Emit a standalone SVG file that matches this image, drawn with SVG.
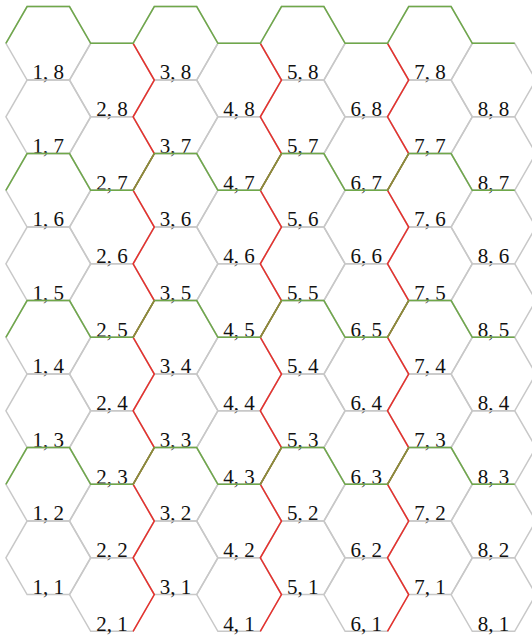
<svg xmlns="http://www.w3.org/2000/svg" xmlns:xlink="http://www.w3.org/1999/xlink" width="532" height="635" viewBox="0 0 532 635">
<style>
.hex{fill:none;stroke:#c8c8c8;stroke-width:1.5}
text{font-family:"Liberation Serif","Times New Roman",serif;font-size:21px;fill:#111;text-anchor:middle}
.g{fill:none;stroke:#6fa84a;stroke-width:1.5;stroke-linejoin:miter}
.r{fill:none;stroke:#e8302c;stroke-width:1.5}
.o{fill:none;stroke:#8c8a3c;stroke-width:1.5}
</style>
<defs><path id="hex" d="M-42.4,0 L-21.2,-36.75 L21.2,-36.75 L42.4,0 L21.2,36.75 L-21.2,36.75Z"/></defs>
<rect width="532" height="635" fill="#fff"/>
<g id="nodes">
<g id="n1-8" transform="translate(48.3,43.3)"><use href="#hex" class="hex"/><text y="36">1, 8</text></g>
<g id="n1-7" transform="translate(48.3,116.8)"><use href="#hex" class="hex"/><text y="36">1, 7</text></g>
<g id="n1-6" transform="translate(48.3,190.3)"><use href="#hex" class="hex"/><text y="36">1, 6</text></g>
<g id="n1-5" transform="translate(48.3,263.8)"><use href="#hex" class="hex"/><text y="36">1, 5</text></g>
<g id="n1-4" transform="translate(48.3,337.3)"><use href="#hex" class="hex"/><text y="36">1, 4</text></g>
<g id="n1-3" transform="translate(48.3,410.8)"><use href="#hex" class="hex"/><text y="36">1, 3</text></g>
<g id="n1-2" transform="translate(48.3,484.3)"><use href="#hex" class="hex"/><text y="36">1, 2</text></g>
<g id="n1-1" transform="translate(48.3,557.8)"><use href="#hex" class="hex"/><text y="36">1, 1</text></g>
<g id="n2-8" transform="translate(111.9,80.05)"><use href="#hex" class="hex"/><text y="36">2, 8</text></g>
<g id="n2-7" transform="translate(111.9,153.55)"><use href="#hex" class="hex"/><text y="36">2, 7</text></g>
<g id="n2-6" transform="translate(111.9,227.05)"><use href="#hex" class="hex"/><text y="36">2, 6</text></g>
<g id="n2-5" transform="translate(111.9,300.55)"><use href="#hex" class="hex"/><text y="36">2, 5</text></g>
<g id="n2-4" transform="translate(111.9,374.05)"><use href="#hex" class="hex"/><text y="36">2, 4</text></g>
<g id="n2-3" transform="translate(111.9,447.55)"><use href="#hex" class="hex"/><text y="36">2, 3</text></g>
<g id="n2-2" transform="translate(111.9,521.05)"><use href="#hex" class="hex"/><text y="36">2, 2</text></g>
<g id="n2-1" transform="translate(111.9,594.55)"><use href="#hex" class="hex"/><text y="36">2, 1</text></g>
<g id="n3-8" transform="translate(175.5,43.3)"><use href="#hex" class="hex"/><text y="36">3, 8</text></g>
<g id="n3-7" transform="translate(175.5,116.8)"><use href="#hex" class="hex"/><text y="36">3, 7</text></g>
<g id="n3-6" transform="translate(175.5,190.3)"><use href="#hex" class="hex"/><text y="36">3, 6</text></g>
<g id="n3-5" transform="translate(175.5,263.8)"><use href="#hex" class="hex"/><text y="36">3, 5</text></g>
<g id="n3-4" transform="translate(175.5,337.3)"><use href="#hex" class="hex"/><text y="36">3, 4</text></g>
<g id="n3-3" transform="translate(175.5,410.8)"><use href="#hex" class="hex"/><text y="36">3, 3</text></g>
<g id="n3-2" transform="translate(175.5,484.3)"><use href="#hex" class="hex"/><text y="36">3, 2</text></g>
<g id="n3-1" transform="translate(175.5,557.8)"><use href="#hex" class="hex"/><text y="36">3, 1</text></g>
<g id="n4-8" transform="translate(239.1,80.05)"><use href="#hex" class="hex"/><text y="36">4, 8</text></g>
<g id="n4-7" transform="translate(239.1,153.55)"><use href="#hex" class="hex"/><text y="36">4, 7</text></g>
<g id="n4-6" transform="translate(239.1,227.05)"><use href="#hex" class="hex"/><text y="36">4, 6</text></g>
<g id="n4-5" transform="translate(239.1,300.55)"><use href="#hex" class="hex"/><text y="36">4, 5</text></g>
<g id="n4-4" transform="translate(239.1,374.05)"><use href="#hex" class="hex"/><text y="36">4, 4</text></g>
<g id="n4-3" transform="translate(239.1,447.55)"><use href="#hex" class="hex"/><text y="36">4, 3</text></g>
<g id="n4-2" transform="translate(239.1,521.05)"><use href="#hex" class="hex"/><text y="36">4, 2</text></g>
<g id="n4-1" transform="translate(239.1,594.55)"><use href="#hex" class="hex"/><text y="36">4, 1</text></g>
<g id="n5-8" transform="translate(302.7,43.3)"><use href="#hex" class="hex"/><text y="36">5, 8</text></g>
<g id="n5-7" transform="translate(302.7,116.8)"><use href="#hex" class="hex"/><text y="36">5, 7</text></g>
<g id="n5-6" transform="translate(302.7,190.3)"><use href="#hex" class="hex"/><text y="36">5, 6</text></g>
<g id="n5-5" transform="translate(302.7,263.8)"><use href="#hex" class="hex"/><text y="36">5, 5</text></g>
<g id="n5-4" transform="translate(302.7,337.3)"><use href="#hex" class="hex"/><text y="36">5, 4</text></g>
<g id="n5-3" transform="translate(302.7,410.8)"><use href="#hex" class="hex"/><text y="36">5, 3</text></g>
<g id="n5-2" transform="translate(302.7,484.3)"><use href="#hex" class="hex"/><text y="36">5, 2</text></g>
<g id="n5-1" transform="translate(302.7,557.8)"><use href="#hex" class="hex"/><text y="36">5, 1</text></g>
<g id="n6-8" transform="translate(366.3,80.05)"><use href="#hex" class="hex"/><text y="36">6, 8</text></g>
<g id="n6-7" transform="translate(366.3,153.55)"><use href="#hex" class="hex"/><text y="36">6, 7</text></g>
<g id="n6-6" transform="translate(366.3,227.05)"><use href="#hex" class="hex"/><text y="36">6, 6</text></g>
<g id="n6-5" transform="translate(366.3,300.55)"><use href="#hex" class="hex"/><text y="36">6, 5</text></g>
<g id="n6-4" transform="translate(366.3,374.05)"><use href="#hex" class="hex"/><text y="36">6, 4</text></g>
<g id="n6-3" transform="translate(366.3,447.55)"><use href="#hex" class="hex"/><text y="36">6, 3</text></g>
<g id="n6-2" transform="translate(366.3,521.05)"><use href="#hex" class="hex"/><text y="36">6, 2</text></g>
<g id="n6-1" transform="translate(366.3,594.55)"><use href="#hex" class="hex"/><text y="36">6, 1</text></g>
<g id="n7-8" transform="translate(429.9,43.3)"><use href="#hex" class="hex"/><text y="36">7, 8</text></g>
<g id="n7-7" transform="translate(429.9,116.8)"><use href="#hex" class="hex"/><text y="36">7, 7</text></g>
<g id="n7-6" transform="translate(429.9,190.3)"><use href="#hex" class="hex"/><text y="36">7, 6</text></g>
<g id="n7-5" transform="translate(429.9,263.8)"><use href="#hex" class="hex"/><text y="36">7, 5</text></g>
<g id="n7-4" transform="translate(429.9,337.3)"><use href="#hex" class="hex"/><text y="36">7, 4</text></g>
<g id="n7-3" transform="translate(429.9,410.8)"><use href="#hex" class="hex"/><text y="36">7, 3</text></g>
<g id="n7-2" transform="translate(429.9,484.3)"><use href="#hex" class="hex"/><text y="36">7, 2</text></g>
<g id="n7-1" transform="translate(429.9,557.8)"><use href="#hex" class="hex"/><text y="36">7, 1</text></g>
<g id="n8-8" transform="translate(493.5,80.05)"><use href="#hex" class="hex"/><text y="36">8, 8</text></g>
<g id="n8-7" transform="translate(493.5,153.55)"><use href="#hex" class="hex"/><text y="36">8, 7</text></g>
<g id="n8-6" transform="translate(493.5,227.05)"><use href="#hex" class="hex"/><text y="36">8, 6</text></g>
<g id="n8-5" transform="translate(493.5,300.55)"><use href="#hex" class="hex"/><text y="36">8, 5</text></g>
<g id="n8-4" transform="translate(493.5,374.05)"><use href="#hex" class="hex"/><text y="36">8, 4</text></g>
<g id="n8-3" transform="translate(493.5,447.55)"><use href="#hex" class="hex"/><text y="36">8, 3</text></g>
<g id="n8-2" transform="translate(493.5,521.05)"><use href="#hex" class="hex"/><text y="36">8, 2</text></g>
<g id="n8-1" transform="translate(493.5,594.55)"><use href="#hex" class="hex"/><text y="36">8, 1</text></g>
</g>
<g id="connectors">
<polyline class="r" points="133.1,43.3 154.3,80.05 133.1,116.8 154.3,153.55 133.1,190.3 154.3,227.05 133.1,263.8 154.3,300.55 133.1,337.3 154.3,374.05 133.1,410.8 154.3,447.55 133.1,484.3 154.3,521.05 133.1,557.8 154.3,594.55 133.1,631.3"/>
<polyline class="r" points="260.3,43.3 281.5,80.05 260.3,116.8 281.5,153.55 260.3,190.3 281.5,227.05 260.3,263.8 281.5,300.55 260.3,337.3 281.5,374.05 260.3,410.8 281.5,447.55 260.3,484.3 281.5,521.05 260.3,557.8 281.5,594.55 260.3,631.3"/>
<polyline class="r" points="387.5,43.3 408.7,80.05 387.5,116.8 408.7,153.55 387.5,190.3 408.7,227.05 387.5,263.8 408.7,300.55 387.5,337.3 408.7,374.05 387.5,410.8 408.7,447.55 387.5,484.3 408.7,521.05 387.5,557.8 408.7,594.55 387.5,631.3"/>
<polyline class="g" points="5.9,43.3 27.1,6.55 69.5,6.55 90.7,43.3 133.1,43.3 154.3,6.55 196.7,6.55 217.9,43.3 260.3,43.3 281.5,6.55 323.9,6.55 345.1,43.3 387.5,43.3 408.7,6.55 451.1,6.55 472.3,43.3 514.7,43.3"/>
<polyline class="g" points="5.9,190.3 27.1,153.55 69.5,153.55 90.7,190.3 133.1,190.3 154.3,153.55 196.7,153.55 217.9,190.3 260.3,190.3 281.5,153.55 323.9,153.55 345.1,190.3 387.5,190.3 408.7,153.55 451.1,153.55 472.3,190.3 514.7,190.3"/>
<polyline class="g" points="5.9,337.3 27.1,300.55 69.5,300.55 90.7,337.3 133.1,337.3 154.3,300.55 196.7,300.55 217.9,337.3 260.3,337.3 281.5,300.55 323.9,300.55 345.1,337.3 387.5,337.3 408.7,300.55 451.1,300.55 472.3,337.3 514.7,337.3"/>
<polyline class="g" points="5.9,484.3 27.1,447.55 69.5,447.55 90.7,484.3 133.1,484.3 154.3,447.55 196.7,447.55 217.9,484.3 260.3,484.3 281.5,447.55 323.9,447.55 345.1,484.3 387.5,484.3 408.7,447.55 451.1,447.55 472.3,484.3 514.7,484.3"/>
<path class="o" d="M133.1,190.3L154.3,153.55M260.3,190.3L281.5,153.55M387.5,190.3L408.7,153.55M133.1,337.3L154.3,300.55M260.3,337.3L281.5,300.55M387.5,337.3L408.7,300.55M133.1,484.3L154.3,447.55M260.3,484.3L281.5,447.55M387.5,484.3L408.7,447.55"/>
</g>
</svg>
